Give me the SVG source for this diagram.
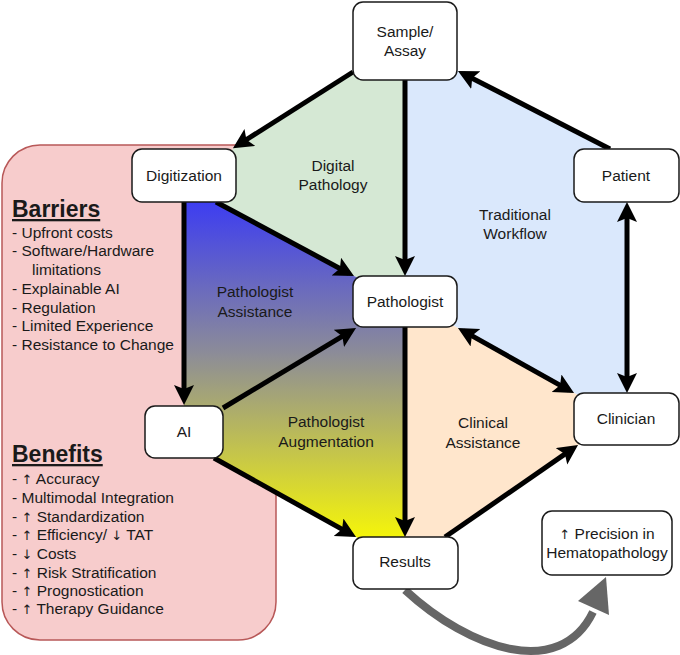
<svg xmlns="http://www.w3.org/2000/svg" width="680" height="655" viewBox="0 0 680 655">
<defs>
<style>
text{font-family:"Liberation Sans",Arial,sans-serif;fill:#1a1a1a;font-size:15.5px}
.c{text-anchor:middle}
.h{font-weight:bold;font-size:23px;text-decoration:underline}
.ar{font-family:"DejaVu Sans",sans-serif;font-size:13px;fill:#1a1a1a}
.box{fill:#fff;stroke:#1a1a1a;stroke-width:1.5}
.ln{stroke:#000;stroke-width:5;fill:none}
.one{marker-end:url(#ah)}
.two{marker-start:url(#ah);marker-end:url(#ah)}
</style>
<marker id="ah" markerUnits="userSpaceOnUse" markerWidth="24" markerHeight="22" refX="14" refY="10" orient="auto-start-reverse" viewBox="0 0 24 22">
<path d="M0,0 L20,10 L0,20 L4,10 Z" fill="#000"/>
</marker>
<linearGradient id="grad" gradientUnits="userSpaceOnUse" x1="0" y1="200" x2="0" y2="540">
<stop offset="0" stop-color="#3c3cf2"/>
<stop offset="0.45" stop-color="#8c8c98"/>
<stop offset="1" stop-color="#f6f608"/>
</linearGradient>
</defs>

<g id="panel">
<rect x="2" y="145" width="274" height="495" rx="38" fill="#f7cccc" stroke="#b85858" stroke-width="1.5"/>
<text class="h" x="12" y="217">Barriers</text>
<text x="12" y="237.5">- Upfront costs</text>
<text x="12" y="256">- Software/Hardware</text>
<text x="32" y="274.5">limitations</text>
<text x="12" y="293.5">- Explainable AI</text>
<text x="12" y="312.5">- Regulation</text>
<text x="12" y="331">- Limited Experience</text>
<text x="12" y="349.5">- Resistance to Change</text>
<text class="h" x="12" y="462">Benefits</text>
<text x="12" y="483.5">- <tspan class="ar">↑</tspan> Accuracy</text>
<text x="12" y="502.5">- Multimodal Integration</text>
<text x="12" y="521.5">- <tspan class="ar">↑</tspan> Standardization</text>
<text x="12" y="539.5">- <tspan class="ar">↑</tspan> Efficiency/ <tspan class="ar">↓</tspan> TAT</text>
<text x="12" y="558.5">- <tspan class="ar">↓</tspan> Costs</text>
<text x="12" y="577.5">- <tspan class="ar">↑</tspan> Risk Stratification</text>
<text x="12" y="595.5">- <tspan class="ar">↑</tspan> Prognostication</text>
<text x="12" y="613.5">- <tspan class="ar">↑</tspan> Therapy Guidance</text>
</g>

<g id="regions">
<polygon id="digital-pathology" points="405,41 353,72 233,148 216,202 354,276 405,301" fill="#d5e8d4"/>
<polygon id="traditional-workflow" points="405,41 458,71 610,149 627,175 627,419 574,393 458,328 405,301" fill="#dae8fc"/>
<polygon id="clinical-assistance" points="405,301 458,328 574,393 627,419 578,445 445,537 405,562" fill="#ffe6cc"/>
<polygon id="ai-region" points="184,175 216,202 354,276 405,301 405,562 356,537 214,458 184,432" fill="url(#grad)"/>
<text class="c" x="333" y="171">Digital</text>
<text class="c" x="333" y="190">Pathology</text>
<text class="c" x="515" y="220">Traditional</text>
<text class="c" x="515" y="239">Workflow</text>
<text class="c" x="255" y="297">Pathologist</text>
<text class="c" x="255" y="317">Assistance</text>
<text class="c" x="326" y="427">Pathologist</text>
<text class="c" x="326" y="447">Augmentation</text>
<text class="c" x="483" y="428">Clinical</text>
<text class="c" x="483" y="448">Assistance</text>
</g>

<g id="connectors">
<line class="ln one" x1="353" y1="72" x2="238" y2="145"/>
<line class="ln one" x1="405" y1="80" x2="405" y2="270"/>
<line class="ln one" x1="610" y1="149" x2="463.3" y2="73.7"/>
<line class="ln two" x1="627" y1="208" x2="627" y2="387"/>
<line class="ln two" x1="463.2" y1="330.9" x2="568.8" y2="390.1"/>
<line class="ln one" x1="216" y1="202" x2="348.7" y2="273.2"/>
<line class="ln one" x1="184" y1="202" x2="184" y2="399"/>
<line class="ln one" x1="223" y1="408" x2="350.9" y2="331.1"/>
<line class="ln one" x1="214" y1="458" x2="350.8" y2="534.1"/>
<line class="ln one" x1="405" y1="327" x2="405" y2="531"/>
<line class="ln one" x1="445" y1="537" x2="573.1" y2="448.4"/>
<path d="M405,590 C470,650 560,680 593,612" fill="none" stroke="#666" stroke-width="8"/>
<polygon points="606,577 578,601 609,615" fill="#666"/>
</g>

<g id="sample-assay"><rect class="box" x="353" y="2" width="104" height="78" rx="10"/><text class="c" x="405" y="37">Sample/</text><text class="c" x="405" y="56">Assay</text></g>
<g id="digitization"><rect class="box" x="132" y="149" width="104" height="53" rx="10"/><text class="c" x="184" y="181">Digitization</text></g>
<g id="patient"><rect class="box" x="574" y="149" width="105" height="53" rx="10"/><text class="c" x="626" y="181">Patient</text></g>
<g id="pathologist"><rect class="box" x="353" y="276" width="104" height="51" rx="10"/><text class="c" x="405" y="307">Pathologist</text></g>
<g id="ai"><rect class="box" x="145" y="406" width="78" height="52" rx="10"/><text class="c" x="184" y="437">AI</text></g>
<g id="clinician"><rect class="box" x="574" y="393" width="105" height="52" rx="10"/><text class="c" x="626" y="424">Clinician</text></g>
<g id="results"><rect class="box" x="353" y="537" width="105" height="52" rx="10"/><text class="c" x="405" y="567">Results</text></g>
<g id="precision"><rect class="box" x="542" y="511" width="130" height="64" rx="10"/><text class="c" x="607" y="539"><tspan class="ar">↑</tspan> Precision in</text><text class="c" x="607" y="558">Hematopathology</text></g>
</svg>
